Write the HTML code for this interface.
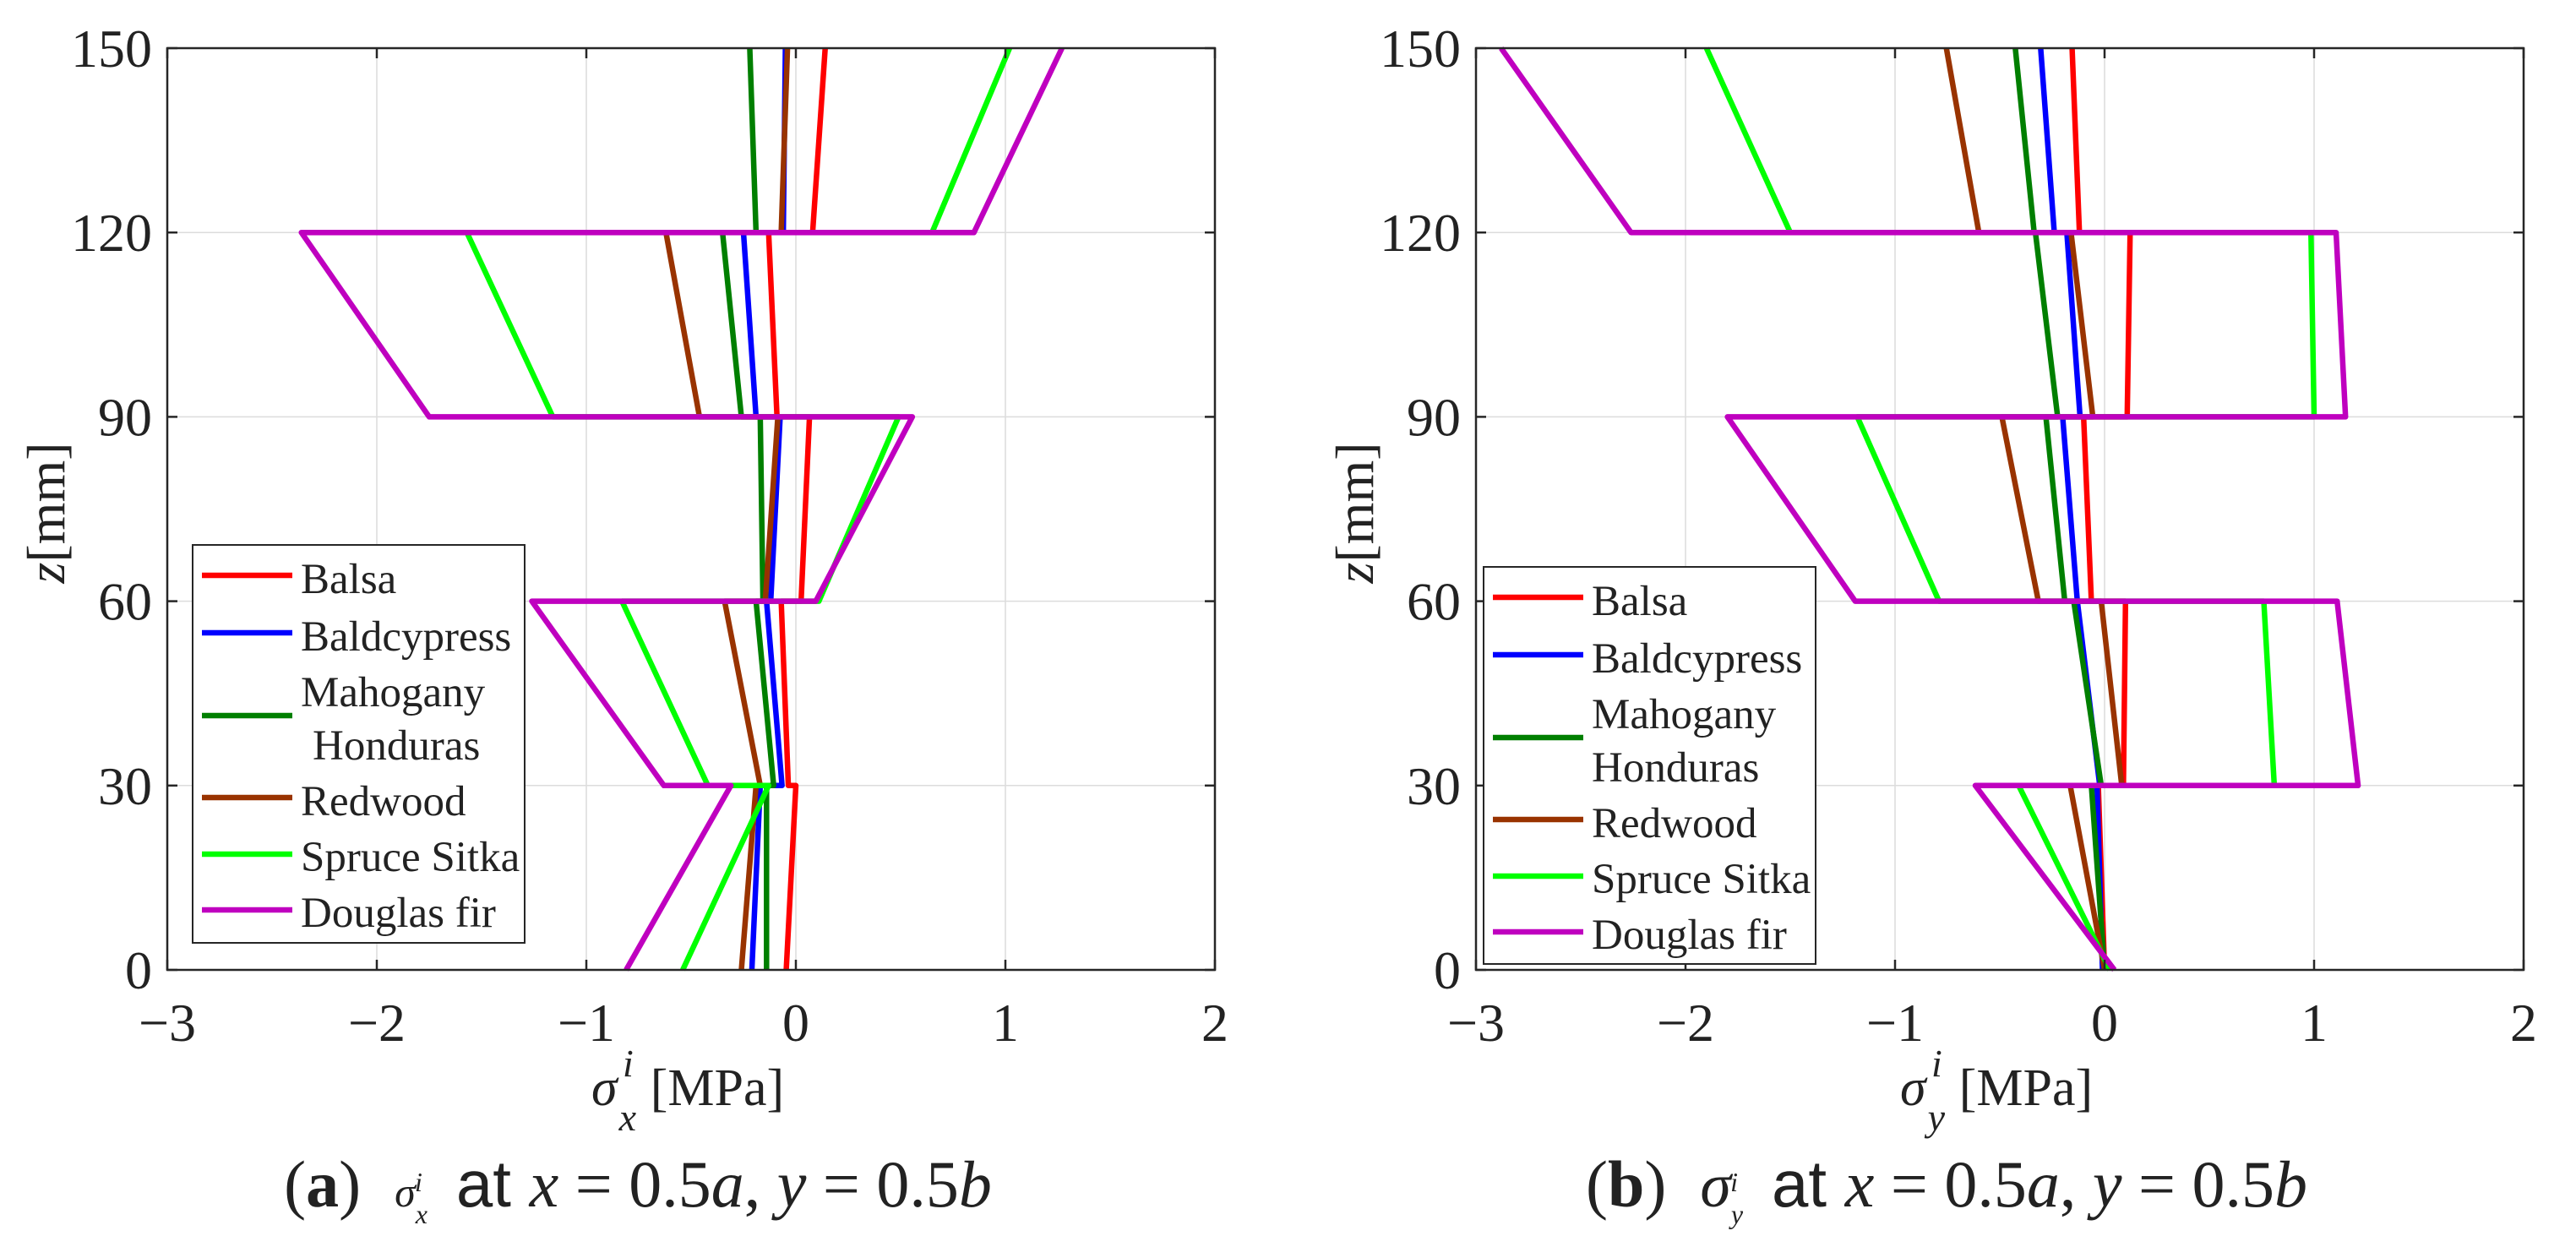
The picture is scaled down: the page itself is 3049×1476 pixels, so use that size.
<!DOCTYPE html>
<html><head><meta charset="utf-8"><style>
html,body{margin:0;padding:0;background:#fff;}
svg{display:block;}
text{font-family:"Liberation Serif",serif;fill:#222;}
</style></head><body>
<svg id="chart" width="3049" height="1476" viewBox="0 0 3049 1476" xmlns="http://www.w3.org/2000/svg"></svg>
<script>
// Data: layer boundaries (z, mm) and per-series [top,bottom] stress values per layer from z=150 downward
const layerTops = [150, 120, 90, 60, 30];
const layerBottoms = [120, 90, 60, 30, 0];
const seriesNames = ["Balsa","Baldcypress","Mahogany Honduras","Redwood","Spruce Sitka","Douglas fir"];
const seriesColors = ["#ff0000","#0000ff","#007f00","#993300","#00ff00","#bf00bf"];
const xTicks = [-3,-2,-1,0,1,2];
const zTicks = [0,30,60,90,120,150];

// Panel (a) sigma_x: each array = [top,bottom] per layer
const sxBalsa = [[0.14,0.08],[-0.13,-0.09],[0.065,0.025],[-0.07,-0.036],[0.0,-0.046]];
const sxBaldcypress = [[-0.05,-0.06],[-0.25,-0.19],[-0.075,-0.12],[-0.14,-0.066],[-0.17,-0.21]];
const sxMahogany = [[-0.22,-0.19],[-0.35,-0.26],[-0.17,-0.157],[-0.19,-0.106],[-0.14,-0.14]];
const sxRedwood = [[-0.04,-0.07],[-0.62,-0.46],[-0.086,-0.146],[-0.34,-0.17],[-0.19,-0.26]];
const sxSpruce = [[1.02,0.65],[-1.57,-1.16],[0.49,0.11],[-0.83,-0.42],[-0.13,-0.54]];
const sxDouglas = [[1.27,0.85],[-2.36,-1.75],[0.556,0.095],[-1.26,-0.63],[-0.31,-0.81]];

// Panel (b) sigma_y
const syBalsa = [[-0.155,-0.12],[0.122,0.108],[-0.10,-0.063],[0.10,0.09],[-0.03,0.0]];
const syBaldcypress = [[-0.305,-0.24],[-0.18,-0.117],[-0.2,-0.13],[-0.13,-0.023],[-0.036,-0.01]];
const syMahogany = [[-0.426,-0.336],[-0.33,-0.224],[-0.28,-0.19],[-0.147,-0.016],[-0.063,0.0]];
const syRedwood = [[-0.755,-0.60],[-0.16,-0.056],[-0.49,-0.316],[-0.016,0.082],[-0.164,0.0]];
const sySpruce = [[-1.90,-1.50],[0.985,1.0],[-1.18,-0.79],[0.76,0.81],[-0.41,0.025]];
const syDouglas = [[-2.88,-2.26],[1.105,1.15],[-1.80,-1.19],[1.11,1.21],[-0.617,0.047]];

const NS = "http://www.w3.org/2000/svg";
const svg = document.getElementById("chart");
function mk(tag, attrs, parent){
  const e = document.createElementNS(NS, tag);
  for (const k in attrs) e.setAttribute(k, attrs[k]);
  (parent||svg).appendChild(e);
  return e;
}

function panel(ox, key, seriesData, axisSub, legendBox, captionLetter){
  const L = ox + 198, R = ox + 1438, T = 57, B = 1148;
  const xs = v => L + (v + 3) / 5 * (R - L);
  const zs = v => B - v / 150 * (B - T);
  const g = mk("g", {});
  
  
  xTicks.forEach(t => {
    if (t === -3 || t === 2) return;
    const l = mk("line", {x1: xs(t), x2: xs(t), y1: T, y2: B, stroke: "#dcdcdc", "stroke-width": 1.5}, g);
    
    
  });
  zTicks.forEach(t => {
    if (t === 0 || t === 150) return;
    const l = mk("line", {x1: L, x2: R, y1: zs(t), y2: zs(t), stroke: "#dcdcdc", "stroke-width": 1.5}, g);
    
    
  });
  seriesData.forEach((arr, si) => {
    const pts = [];
    arr.forEach((seg, li) => {
      pts.push(xs(seg[0]) + "," + zs(layerTops[li]));
      pts.push(xs(seg[1]) + "," + zs(layerBottoms[li]));
    });
    const p = mk("polyline", {points: pts.join(" "), fill: "none", stroke: seriesColors[si], "stroke-width": 6.5, "stroke-linejoin": "round"}, g);
    
    
  });
  const box = mk("rect", {x: L, y: T, width: R - L, height: B - T, fill: "none", stroke: "#262626", "stroke-width": 2.5}, g);
  
  
  xTicks.forEach(t => {
    mk("line", {x1: xs(t), x2: xs(t), y1: B, y2: B - 12, stroke: "#262626", "stroke-width": 2.5}, g);
    mk("line", {x1: xs(t), x2: xs(t), y1: T, y2: T + 12, stroke: "#262626", "stroke-width": 2.5}, g);
    const tx = mk("text", {x: xs(t), y: 1232, "font-size": 64, "text-anchor": "middle"}, g);
    tx.textContent = t < 0 ? "\u2212" + Math.abs(t) : String(t);
    
    
  });
  zTicks.forEach(t => {
    mk("line", {x1: L, x2: L + 12, y1: zs(t), y2: zs(t), stroke: "#262626", "stroke-width": 2.5}, g);
    mk("line", {x1: R, x2: R - 12, y1: zs(t), y2: zs(t), stroke: "#262626", "stroke-width": 2.5}, g);
    const tx = mk("text", {x: 180 + ox, y: zs(t) + 22, "font-size": 64, "text-anchor": "end"}, g);
    tx.textContent = String(t);
    
    
  });
  const yt = mk("text", {x: 0, y: 0, "font-size": 64, "text-anchor": "middle", transform: `translate(${ox + 76},607) rotate(-90)`}, g);
  yt.innerHTML = '<tspan font-style="italic">z</tspan>[mm]';
  
  
  const xt = mk("text", {x: ox + 700, y: 1308, "font-size": 62}, g);
  xt.innerHTML = '<tspan font-style="italic">σ</tspan><tspan font-style="italic" font-size="46" dx="2" dy="30">' + axisSub + '</tspan><tspan font-style="italic" font-size="46" dx="-16" dy="-64">i</tspan><tspan dx="20" dy="34">[MPa]</tspan>';
  
  
  const lg = mk("g", {}, g);
  
  
  mk("rect", {x: legendBox.x, y: legendBox.y, width: legendBox.w, height: legendBox.h, fill: "#fff", stroke: "#262626", "stroke-width": 2}, lg);
  const lineYs = [36, 104, 202, 299, 366, 432];
  const textRows = [["Balsa",40],["Baldcypress",108],["Mahogany",174],["Honduras",237],["Redwood",303],["Spruce Sitka",369],["Douglas fir",435]];
  seriesNames.forEach((n, i) => {
    const ln = mk("line", {x1: legendBox.x + 11, x2: legendBox.x + 118, y1: legendBox.y + lineYs[i], y2: legendBox.y + lineYs[i], stroke: seriesColors[i], "stroke-width": 6.5}, lg);
    
    
  });
  textRows.forEach((r, i) => {
    const dx = (r[0] === "Honduras") ? legendBox.indent : 0;
    const t = mk("text", {x: legendBox.x + 128 + dx, y: legendBox.y + r[1] + 17, "font-size": 51}, lg);
    t.textContent = r[0];
    
    
  });
  const cap = mk("text", {x: ox + 755, y: 1428, "font-size": 78, "text-anchor": "middle"}, g);
  cap.innerHTML = '(<tspan font-weight="bold">' + captionLetter + '</tspan>)<tspan dx="40" font-style="italic" font-size="' + (captionLetter === 'a' ? 50 : 74) + '">σ</tspan><tspan font-style="italic" font-size="32" dy="20">' + axisSub + '</tspan><tspan font-style="italic" font-size="32" dx="-15" dy="-38">i</tspan><tspan dx="40" dy="18" font-family="Liberation Sans, sans-serif">at </tspan><tspan font-style="italic">x</tspan> = 0.5<tspan font-style="italic">a</tspan>, <tspan font-style="italic">y</tspan> = 0.5<tspan font-style="italic">b</tspan>';
  
  
}

panel(0, 'a', [sxBalsa, sxBaldcypress, sxMahogany, sxRedwood, sxSpruce, sxDouglas], 'x', {x: 228, y: 645, w: 393, h: 471, indent: 14}, 'a');
panel(1549, 'b', [syBalsa, syBaldcypress, syMahogany, syRedwood, sySpruce, syDouglas], 'y', {x: 1756, y: 671, w: 393, h: 470, indent: 0}, 'b');
</script>
</body></html>
